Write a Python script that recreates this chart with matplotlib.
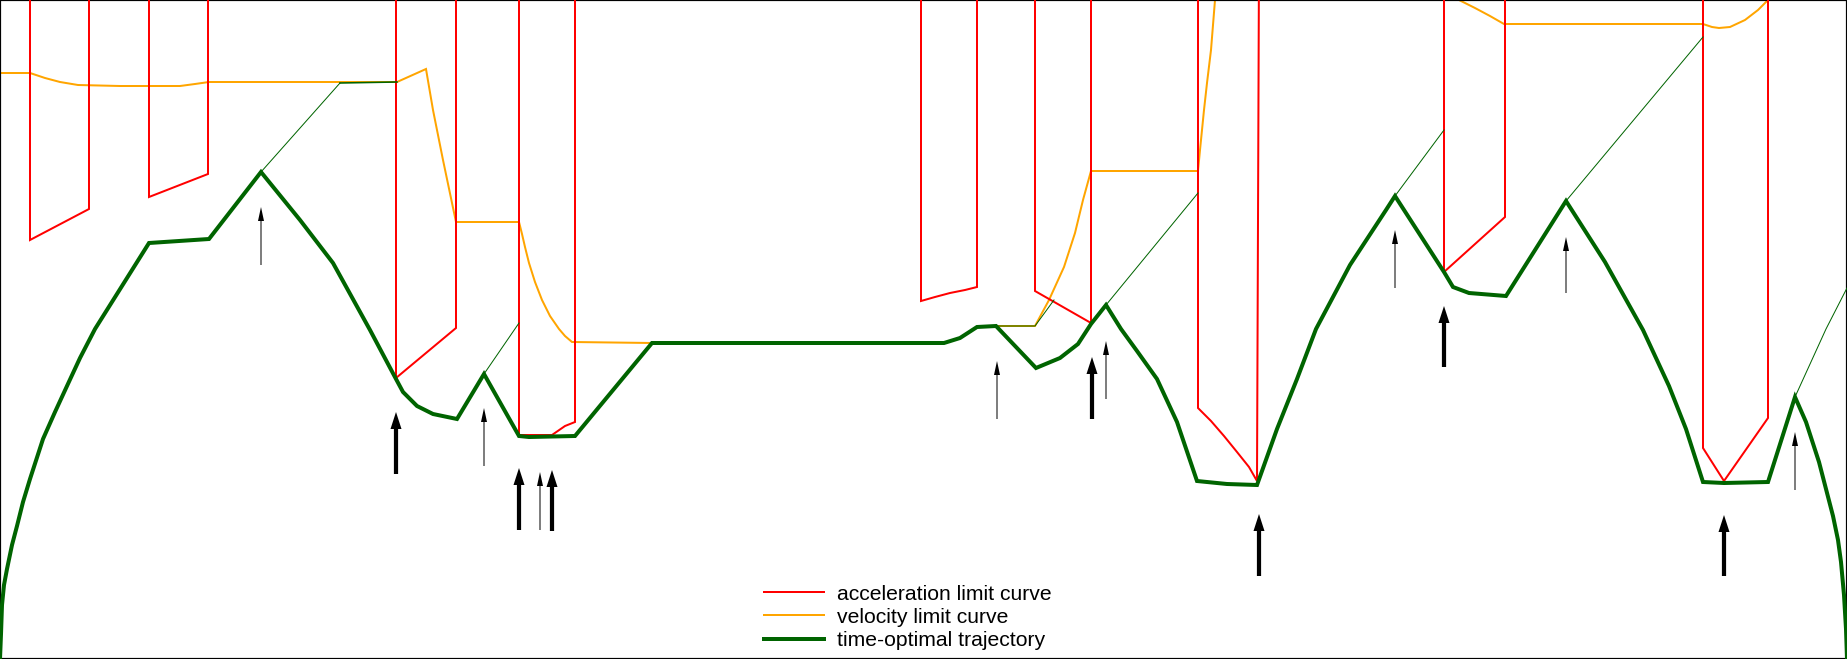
import numpy as np
import matplotlib
matplotlib.use("Agg")
import matplotlib.pyplot as plt
from matplotlib.lines import Line2D

# ---- data: phase plane (path position s, path velocity sdot) ----
TOP = 700  # limit curves run off the top of the plane

# acceleration limit curve, one piece per region
accel_s = [
    [30, 30, 89, 89],
    [149, 149, 208, 208],
    [396, 396, 456, 456],
    [519, 519, 552, 565, 575, 575],
    [921, 921, 935, 950, 965, 977, 977],
    [1035, 1035, 1091, 1091],
    [1198, 1198, 1211, 1224, 1237, 1249, 1257, 1259],
    [1444, 1444, 1505, 1505],
    [1703, 1703, 1724, 1768, 1768],
]
accel_v = [
    [TOP, 419, 450, TOP],
    [TOP, 462, 485, TOP],
    [TOP, 281, 331, TOP],
    [TOP, 224, 224, 233, 237, TOP],
    [TOP, 358, 362, 366, 369, 372, TOP],
    [TOP, 368, 336, TOP],
    [TOP, 251, 238, 223, 207, 192, 178, TOP],
    [TOP, 387, 442, TOP],
    [TOP, 211, 178, 241, TOP],
]

# velocity limit curve (two visible pieces)
vel_s = [
    [0, 30, 45, 60, 78, 120, 180, 195, 209, 397, 426, 433, 443, 456, 519, 522, 525,
     529, 535, 542, 550, 559, 565, 572, 652, 944, 960, 977, 996, 1035, 1049,
     1064, 1075, 1083, 1091, 1198, 1200, 1204, 1207, 1211, 1215, 1219],
    [1430, 1459, 1475, 1490, 1504, 1703, 1712, 1719, 1730, 1745, 1758, 1768, 1776],
]
vel_v = [
    [586, 586, 581, 577, 574, 573, 573, 575, 577, 577, 590, 549, 499, 437, 437, 425, 412,
     396, 377, 359, 343, 330, 323, 317, 316, 316, 321, 332, 333, 333, 359,
     392, 426, 459, 488, 488, 509, 549, 576, 609, 659, 689],
    [674, 659, 651, 643, 635, 635, 632, 631, 632, 639, 649, 659, 669],
]

# time-optimal trajectory
traj_s = [0, 1, 2, 4, 7, 12, 17, 23, 30, 43, 55, 67, 80, 95, 149, 209, 261, 300, 333,
          370, 396, 403, 417, 433, 457, 484, 519, 529, 575, 652, 944, 960, 977, 996,
          1036, 1060, 1078, 1091, 1106, 1121, 1137, 1157, 1177, 1197, 1227, 1257,
          1277, 1297, 1316, 1350, 1386, 1395, 1444, 1453, 1469, 1506, 1566, 1605,
          1643, 1669, 1686, 1703, 1724, 1768, 1795, 1806, 1819, 1826, 1833, 1838,
          1841, 1844, 1846, 1847]
traj_v = [0, 25, 54, 74, 90, 114, 133, 157, 180, 220, 247, 273, 301, 330, 416, 420, 487,
          439, 396, 329, 280, 267, 253, 245, 240, 285, 223, 222, 223, 316, 316, 321,
          332, 333, 291, 301, 315, 335, 354, 330, 308, 280, 237, 178, 175, 174, 230,
          280, 330, 394, 449, 463, 387, 372, 366, 363, 458, 397, 329, 273, 230, 177,
          176, 177, 262, 237, 197, 170, 143, 119, 97, 64, 30, 0]

# integrated (rejected) trajectory pieces, drawn thin
thin_s = [[261, 340], [340, 397], [484, 519], [996, 1035, 1054], [1106, 1198],
          [1395, 1444], [1566, 1703], [1795, 1826, 1847]]
thin_v = [[487, 576], [576, 577], [285, 336], [333, 333, 359], [354, 466],
          [463, 529], [458, 622], [262, 330, 371]]
thin_w = [1.0, 1.6, 1.0, 1.0, 1.0, 1.0, 1.0, 1.0]

# switch points: (s, arrow base, arrow tip)
thin_arrow_s = [261, 484, 540, 997, 1106, 1395, 1566, 1795]
thin_arrow_lo = [394, 193, 129, 240, 260, 371, 366, 169]
thin_arrow_hi = [452, 251, 187, 298, 318, 429, 422, 227]
thick_arrow_s = [396, 519, 552, 1092, 1259, 1444, 1724]
thick_arrow_lo = [185, 129, 128, 240, 83, 292, 83]
thick_arrow_hi = [247, 191, 189, 302, 145, 353, 144]

labels = ["acceleration limit curve", "velocity limit curve", "time-optimal trajectory"]

# ---- drawing ----
RED = "#ff0000"
ORANGE = "#ffa500"
GREEN = "#006400"
PX = 0.72  # points per pixel at dpi 100

plt.rcParams["font.family"] = ["Liberation Sans", "DejaVu Sans"]
fig = plt.figure(figsize=(18.47, 6.59), dpi=100)
ax = fig.add_axes([0, 0, 1, 1])
ax.set_xlim(0, 1847)
ax.set_ylim(0, 659)
ax.set_xticks([])
ax.set_yticks([])
for sp in ax.spines.values():
    sp.set_color("black")
    sp.set_linewidth(2.2 * PX)

for s, v in zip(vel_s, vel_v):
    ax.plot(s, v, color=ORANGE, lw=2 * PX, zorder=2, solid_joinstyle="miter")
for s, v in zip(accel_s, accel_v):
    ax.plot(s, v, color=RED, lw=2 * PX, zorder=3, solid_joinstyle="miter")
for s, v, w in zip(thin_s, thin_v, thin_w):
    ax.plot(s, v, color=GREEN, lw=w * PX, zorder=4)
ax.plot(traj_s, traj_v, color=GREEN, lw=4 * PX, zorder=5, solid_joinstyle="miter")

for x, lo, hi in zip(thin_arrow_s, thin_arrow_lo, thin_arrow_hi):
    ax.arrow(x, lo, 0, hi - lo, width=1.0, head_width=6, head_length=14,
             length_includes_head=True, color="black", lw=0, zorder=6)
for x, lo, hi in zip(thick_arrow_s, thick_arrow_lo, thick_arrow_hi):
    ax.arrow(x, lo, 0, hi - lo, width=4.2, head_width=11, head_length=17,
             length_includes_head=True, color="black", lw=0, zorder=6)

handles = [Line2D([], [], color=RED, lw=2 * PX),
           Line2D([], [], color=ORANGE, lw=2 * PX),
           Line2D([], [], color=GREEN, lw=4 * PX)]
ax.legend(handles, labels, loc="lower left", bbox_to_anchor=(764 / 1847, 9 / 659),
          frameon=False, fontsize=15.2, handlelength=2.85, handletextpad=0.62,
          labelspacing=0.2, borderpad=0, borderaxespad=0)

fig.savefig("out.png", dpi=100)
